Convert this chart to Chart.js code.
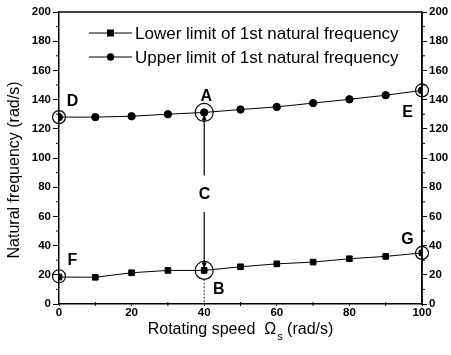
<!DOCTYPE html>
<html>
<head>
<meta charset="utf-8">
<script src="https://cdn.jsdelivr.net/npm/chart.js@4.4.1/dist/chart.umd.min.js"></script>
<style>
  html, body { margin: 0; padding: 0; background: #fff; }
  #wrap { width: 451px; height: 355px; position: relative; }
</style>
</head>
<body>
<div id="wrap"><canvas id="c"></canvas></div>
<script>
// ─── Data ────────────────────────────────────────────────────────────────────
const speeds = [0, 10, 20, 30, 40, 50, 60, 70, 80, 90, 100];
const lowerLimit = [18.5, 18.3, 21.4, 23.0, 23.0, 25.5, 27.5, 28.7, 31.0, 32.6, 35.0];
const upperLimit = [128.0, 128.0, 128.6, 130.0, 131.2, 133.2, 135.0, 137.6, 140.2, 143.0, 146.3];
const seriesLabels = ['Lower limit of 1st natural frequency', 'Upper limit of 1st natural frequency'];

// marked points: [x, y, circle radius]
const circled = [[0, 128, 6.5], [40, 131.2, 9], [100, 146.3, 6.5], [0, 19, 6.5], [40, 23, 9], [100, 35, 6.5]];
// point letters: [text, x, y]
const letters = [['D', 3.7, 138.5], ['A', 40.6, 142], ['E', 96, 131], ['C', 40.1, 75],
                 ['F', 3.7, 29.5], ['B', 44, 10], ['G', 96, 44]];

const FONT = '"Liberation Sans", Arial, sans-serif';

// ─── Annotation plugin ───────────────────────────────────────────────────────
const decor = {
  id: 'decor',
  afterDraw(chart) {
    const { ctx, chartArea: a, scales } = chart;
    const xs = scales.x, ys = scales.y;
    ctx.save();
    ctx.strokeStyle = '#000';
    ctx.fillStyle = '#000';

    // frame top + right
    ctx.lineWidth = 1.5;
    ctx.beginPath();
    ctx.moveTo(a.left, a.top); ctx.lineTo(a.right, a.top);
    ctx.moveTo(a.right, a.top); ctx.lineTo(a.right, a.bottom);
    ctx.stroke();

    // minor ticks
    ctx.lineWidth = 1;
    ctx.beginPath();
    for (let v = 10; v < 200; v += 20) {
      const y = ys.getPixelForValue(v);
      ctx.moveTo(a.left - 3, y); ctx.lineTo(a.left, y);
      ctx.moveTo(a.right, y); ctx.lineTo(a.right + 3, y);
    }
    for (let v = 10; v < 100; v += 20) {
      const x = xs.getPixelForValue(v);
      ctx.moveTo(x, a.bottom - 2); ctx.lineTo(x, a.bottom + 2);
    }
    ctx.stroke();

    // circles
    ctx.lineWidth = 1.2;
    circled.forEach(([vx, vy, r]) => {
      ctx.beginPath();
      ctx.arc(xs.getPixelForValue(vx), ys.getPixelForValue(vy), r, 0, Math.PI * 2);
      ctx.stroke();
    });

    // A-B connector with gap for C
    const cx = xs.getPixelForValue(40);
    const yA = ys.getPixelForValue(131.2) + 2;
    const yB = ys.getPixelForValue(23) - 2;
    const gTop = ys.getPixelForValue(88), gBot = ys.getPixelForValue(63);
    ctx.lineWidth = 1.2;
    ctx.beginPath();
    ctx.moveTo(cx, yA); ctx.lineTo(cx, gTop);
    ctx.moveTo(cx, gBot); ctx.lineTo(cx, yB);
    ctx.stroke();
    ctx.beginPath();
    ctx.moveTo(cx, yA); ctx.lineTo(cx - 2.5, yA + 6); ctx.lineTo(cx + 2.5, yA + 6); ctx.closePath();
    ctx.moveTo(cx, yB); ctx.lineTo(cx - 2.5, yB - 6); ctx.lineTo(cx + 2.5, yB - 6); ctx.closePath();
    ctx.fill();
    // dotted drop to axis
    ctx.setLineDash([1.5, 2]);
    ctx.lineWidth = 1;
    ctx.beginPath();
    ctx.moveTo(cx, ys.getPixelForValue(23) + 9); ctx.lineTo(cx, a.bottom);
    ctx.stroke();
    ctx.setLineDash([]);

    // letters
    ctx.font = 'bold 16px ' + FONT;
    ctx.textAlign = 'center';
    ctx.textBaseline = 'middle';
    letters.forEach(([t, vx, vy]) => ctx.fillText(t, xs.getPixelForValue(vx), ys.getPixelForValue(vy)));

    // legend
    ctx.font = '17px ' + FONT;
    ctx.textAlign = 'left';
    chart.data.datasets.forEach((ds, i) => {
      const ly = 33 + i * 24;
      ctx.lineWidth = 1;
      ctx.beginPath(); ctx.moveTo(89, ly); ctx.lineTo(132, ly); ctx.stroke();
      ctx.beginPath();
      if (ds.pointStyle === 'rect') ctx.rect(107, ly - 3.5, 7, 7);
      else ctx.arc(110.5, ly, 3.7, 0, Math.PI * 2);
      ctx.fill();
      ctx.fillText(ds.label, 135, ly + 1);
    });

    // axis titles
    ctx.font = '16px ' + FONT;
    ctx.textAlign = 'center';
    ctx.save();
    ctx.translate(15, 170);
    ctx.rotate(-Math.PI / 2);
    ctx.fillText('Natural frequency (rad/s)', 0, 0);
    ctx.restore();

    const p1 = 'Rotating speed  \u03A9', sub = 's', p2 = ' (rad/s)';
    ctx.textAlign = 'left';
    const w1 = ctx.measureText(p1).width;
    ctx.font = '11px ' + FONT;
    const ws = ctx.measureText(sub).width;
    ctx.font = '16px ' + FONT;
    const w2 = ctx.measureText(p2).width;
    let tx = 240 - (w1 + ws + w2) / 2;
    const ty = 330;
    ctx.fillText(p1, tx, ty); tx += w1;
    ctx.font = '11px ' + FONT;
    ctx.fillText(sub, tx + 1, ty + 7); tx += ws + 1;
    ctx.font = '16px ' + FONT;
    ctx.fillText(p2, tx, ty);
    ctx.restore();
  }
};

// ─── Chart ───────────────────────────────────────────────────────────────────
const tickFont = { family: FONT, size: 11.5, weight: 'bold' };

new Chart(document.getElementById('c'), {
  type: 'line',
  data: {
    datasets: [
      {
        label: seriesLabels[0],
        data: speeds.map((s, i) => ({ x: s, y: lowerLimit[i] })),
        borderColor: '#000', backgroundColor: '#000', borderWidth: 1,
        pointStyle: 'rect', pointRadius: 4, tension: 0,
      },
      {
        label: seriesLabels[1],
        data: speeds.map((s, i) => ({ x: s, y: upperLimit[i] })),
        borderColor: '#000', backgroundColor: '#000', borderWidth: 1,
        pointStyle: 'circle', pointRadius: 3.7, tension: 0,
      },
    ]
  },
  options: {
    responsive: true,
    maintainAspectRatio: false,
    animation: false,
    layout: { padding: { top: 12, bottom: 0, left: 0, right: 0 } },
    plugins: { legend: { display: false }, tooltip: { enabled: false } },
    scales: {
      x: {
        type: 'linear', min: 0, max: 100,
        afterFit: s => { s.height = 51; },
        ticks: { stepSize: 20, color: '#000', font: tickFont, padding: 0, maxRotation: 0 },
        grid: { drawOnChartArea: false, drawTicks: true, tickLength: 2, color: '#000' },
        border: { color: '#000', width: 1.5 },
      },
      y: {
        min: 0, max: 200, position: 'left',
        afterFit: s => { s.width = 59; },
        ticks: { stepSize: 20, color: '#000', font: tickFont, padding: 2 },
        grid: { drawOnChartArea: false, drawTicks: true, tickLength: 6, color: '#000' },
        border: { color: '#000', width: 1.5 },
      },
      y2: {
        min: 0, max: 200, position: 'right',
        afterFit: s => { s.width = 29; },
        ticks: { stepSize: 20, color: '#000', font: tickFont, padding: 2 },
        grid: { drawOnChartArea: false, drawTicks: true, tickLength: 5, color: '#000' },
        border: { color: '#000', width: 1.5 },
      },
    }
  },
  plugins: [decor]
});
</script>
</body>
</html>
